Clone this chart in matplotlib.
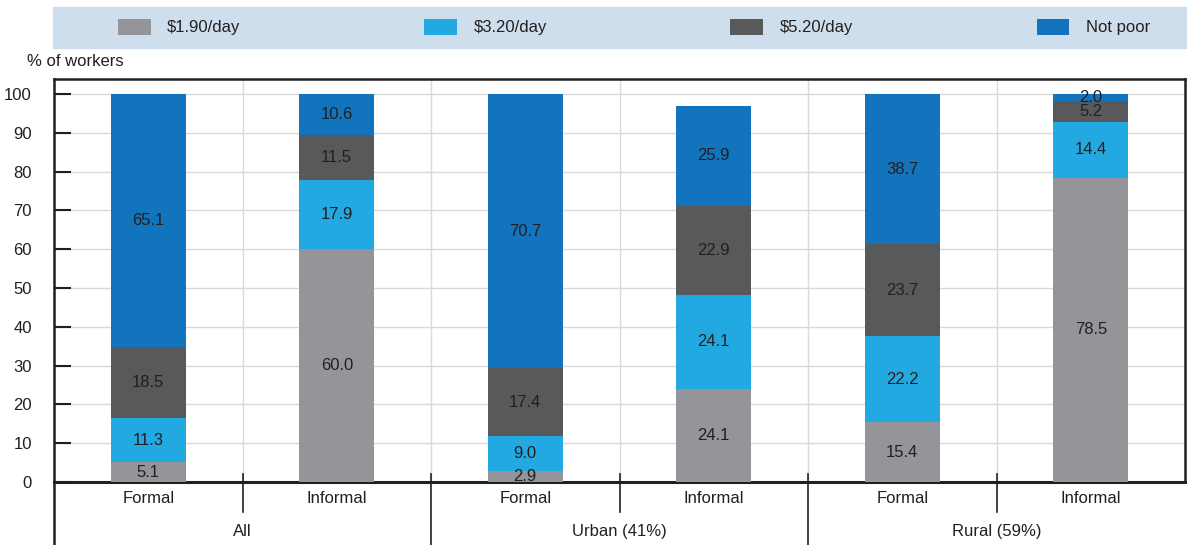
import numpy as np
import matplotlib.pyplot as plt
from matplotlib.patches import Rectangle

# ── Data: share of workers by poverty line, sector and area ─────────────
groups = ["All", "Urban (41%)", "Rural (59%)"]
sectors = ["Formal", "Informal"]
series = ["$1.90/day", "$3.20/day", "$5.20/day", "Not poor"]

below_190 = [5.1, 60.0, 2.9, 24.1, 15.4, 78.5]
below_320 = [11.3, 17.9, 9.0, 24.1, 22.2, 14.4]
below_520 = [18.5, 11.5, 17.4, 22.9, 23.7, 5.2]
not_poor = [65.1, 10.6, 70.7, 25.9, 38.7, 2.0]

colors = ["#939598", "#23a9e1", "#58595b", "#1174bd"]
text_color = "#231f20"
fs = 12
plt.rcParams["font.family"] = ["Liberation Sans", "DejaVu Sans"]

fig = plt.figure(figsize=(11.87, 5.45), dpi=100)
ax = fig.add_axes([54 / 1187, 63 / 545, 1131 / 1187, 403 / 545])

x = np.arange(len(below_190))
bottom = np.zeros(len(x))
handles = []
for vals, col, name in zip([below_190, below_320, below_520, not_poor], colors, series):
    vals = np.array(vals)
    bars = ax.bar(x, vals, 0.4, bottom=bottom, color=col, label=name, zorder=3)
    handles.append(bars)
    for xi, b, v in zip(x, bottom, vals):
        ax.text(xi, b + v / 2, f"{v:.1f}", ha="center", va="center",
                fontsize=fs, color=text_color, zorder=4)
    bottom += vals

ax.set_xlim(-0.5, len(x) - 0.5)
ax.set_ylim(0, 103.9)
ax.set_yticks(np.arange(0, 101, 10))
ax.set_xticks([])
ax.tick_params(axis="y", direction="in", length=12, width=1.5, pad=16,
               labelsize=fs, labelcolor=text_color, color="#231f20")
ax.grid(axis="y", color="#d9d9d9", lw=1, zorder=0)
for xv in np.arange(0.5, len(x) - 0.5):
    ax.axvline(xv, color="#d9d9d9", lw=1, zorder=0)

for side in ["top", "right", "left"]:
    ax.spines[side].set_linewidth(1.8)
    ax.spines[side].set_color("#231f20")
ax.spines["bottom"].set_linewidth(2.2)
ax.spines["bottom"].set_color("#231f20")

# extended left spine and category separators below the axis
trans = ax.get_xaxis_transform()
ax.plot([-0.5, -0.5], [0, -0.16], transform=trans, color="#231f20", lw=1.8, clip_on=False)
for xv in [1.5, 3.5]:
    ax.plot([xv, xv], [0.02, -0.16], transform=trans, color="#231f20", lw=1.2, clip_on=False)
for xv in [0.5, 2.5, 4.5]:
    ax.plot([xv, xv], [0.02, -0.075], transform=trans, color="#231f20", lw=1.2, clip_on=False)

for i in range(len(x)):
    ax.text(i, -0.042, sectors[i % 2], transform=trans, ha="center", va="center",
            fontsize=fs, color=text_color)
for g, name in enumerate(groups):
    ax.text(2 * g + 0.5, -0.122, name, transform=trans, ha="center", va="center",
            fontsize=fs, color=text_color)

fig.text(27 / 1187, 1 - 62 / 545, "% of workers", ha="left", va="center",
         fontsize=fs, color=text_color)

# legend band across the top
fig.patches.append(Rectangle((53 / 1187, 1 - 48 / 545), 1134 / 1187, 41 / 545,
                             transform=fig.transFigure, color="#cfdeec", zorder=0))
fig.legend(handles=handles, labels=series, ncol=4, mode="expand", frameon=False,
           bbox_to_anchor=(103 / 1187, 1 - 46 / 545, 1062 / 1187, 38 / 545),
           loc="center", fontsize=fs, handlelength=1.95, handleheight=1.1,
           handletextpad=1.0, labelcolor=text_color)

fig.savefig("out.png", dpi=100)
